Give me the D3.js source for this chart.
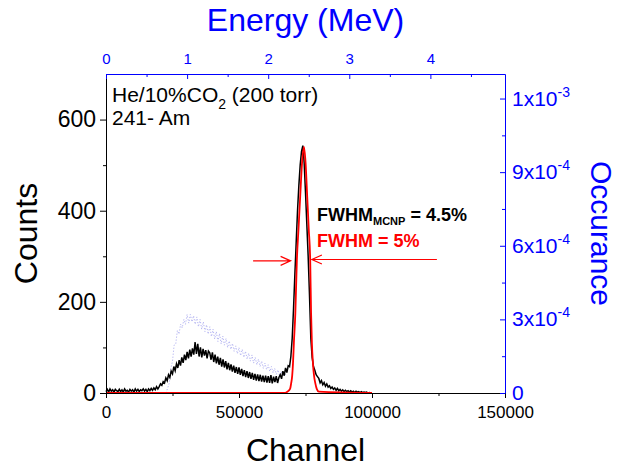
<!DOCTYPE html>
<html>
<head>
<meta charset="utf-8">
<script src="https://cdn.jsdelivr.net/npm/d3@7"></script>
<style>
  body { margin: 0; background: #fff; }
  svg text { font-family: "Liberation Sans", Arial, sans-serif; }
</style>
</head>
<body>
<svg id="chart" width="619" height="470"></svg>
<script>
// measured spectrum, counts per bin (bins of 500 channels starting at 0)
const chanStep = 500;
const counts = [
  3, 8, 2, 9, 4, 7, 2, 8, 5, 3,
  8, 3, 7, 2, 9, 4, 6, 2, 8, 4,
  7, 2, 9, 4, 8, 3, 7, 5, 9, 4,
  8, 3, 9, 5, 10, 6, 11, 7, 14, 9,
  14, 20, 17, 25, 22, 33, 27, 40, 34, 48,
  42, 58, 49, 64, 55, 72, 60, 78, 66, 84,
  72, 90, 76, 95, 80, 98, 84, 112, 86, 108,
  80, 100, 78, 97, 82, 94, 76, 92, 88, 73,
  89, 68, 84, 65, 80, 62, 77, 58, 74, 56,
  70, 52, 66, 50, 63, 47, 60, 44, 57, 42,
  56, 40, 53, 37, 50, 35, 48, 33, 46, 31,
  44, 29, 42, 27, 41, 26, 40, 25, 38, 24,
  38, 23, 37, 22, 39, 21, 36, 24, 37, 22,
  34, 40, 31, 48, 38, 55, 45, 60, 58, 80,
  120, 185, 260, 330, 400, 455, 500, 530, 543, 505,
  440, 370, 300, 215, 120, 78, 58, 50, 40, 36,
  32, 22, 27, 18, 23, 15, 20, 13, 16, 10,
  13, 8, 11, 6, 10, 5, 8, 4, 7, 3,
  6, 3, 5, 2, 5, 2, 4, 1, 4, 2,
  3, 1, 3, 1, 2, 1, 2, 0, 1, 0,
  0
];

// gaussian fit (channel, counts)
const fitChannel = [0, 67400, 68200, 69200, 69600, 70000, 70300, 70630, 71180, 71750, 72370, 73000, 73700,
  74400, 75030, 75650, 76220, 76770, 77100, 77400, 77800, 78210, 78700, 79230, 80000, 100000];
const fitCounts = [0, 0, 3, 9, 21, 38, 65, 110, 175, 291, 360, 430, 505, 540,
  505, 430, 360, 291, 175, 110, 65, 38, 21, 9, 3, 0];

// MCNP simulation (energy MeV, occurance in units of 1e-4)
const simEnergy = [
  0.74, 0.76, 0.78, 0.80, 0.82, 0.84, 0.86, 0.88, 0.90, 0.92,
  0.94, 0.96, 0.98, 1.00, 1.02, 1.04, 1.06, 1.08, 1.10, 1.12,
  1.14, 1.16, 1.18, 1.20, 1.22, 1.24, 1.26, 1.28, 1.30, 1.32,
  1.34, 1.36, 1.38, 1.40, 1.42, 1.44, 1.46, 1.48, 1.50, 1.52,
  1.54, 1.56, 1.58, 1.60, 1.62, 1.64, 1.66, 1.68, 1.70, 1.72,
  1.74, 1.76, 1.78, 1.80, 1.82, 1.84, 1.86, 1.88, 1.90, 1.92,
  1.94, 1.96, 1.98, 2.00, 2.02, 2.04, 2.06, 2.08, 2.10, 2.12,
  2.14, 2.16, 2.18, 2.20, 2.22
];
const simOcc = [
  0.0, 0.2, 0.4, 1.0, 1.3, 1.95, 2.0, 2.55, 2.4, 2.8,
  2.65, 3.0, 2.8, 3.2, 2.85, 3.2, 2.9, 3.15, 2.8, 3.1,
  2.7, 3.0, 2.6, 2.9, 2.5, 2.78, 2.4, 2.7, 2.3, 2.6,
  2.2, 2.5, 2.1, 2.42, 2.0, 2.32, 1.95, 2.22, 1.85, 2.12,
  1.78, 2.02, 1.7, 1.92, 1.6, 1.85, 1.52, 1.78, 1.45, 1.7,
  1.38, 1.62, 1.3, 1.55, 1.22, 1.45, 1.15, 1.38, 1.08, 1.3,
  1.0, 1.22, 0.95, 1.15, 0.88, 1.08, 0.82, 1.0, 0.76, 0.94,
  0.72, 0.88, 0.7, 0.82, 0.68
];

const channelTicks = [0, 50000, 100000, 150000];
const channelMinor = [25000, 75000, 125000];
const countTicks = [0, 200, 400, 600];
const countMinor = [100, 300, 500];
const energyTicks = [0, 1, 2, 3, 4];
const energyMinor = [0.5, 1.5, 2.5, 3.5, 4.5];
const occTicks = [0, 3, 6, 9, 12];
const occMinor = [1.5, 4.5, 7.5, 10.5];
const occLabels = [["0", ""], ["3x10", "-4"], ["6x10", "-4"], ["9x10", "-4"], ["1x10", "-3"]];

const BLUE = "#0000ff", RED = "#ff0000";
const margin = { top: 74, right: 114, bottom: 77, left: 106 };
const W = 619, H = 470;

const svg = d3.select("#chart");

const x = d3.scaleLinear().domain([0, 150000]).range([margin.left, W - margin.right]);
const y = d3.scaleLinear().domain([0, 700]).range([H - margin.bottom, margin.top]);
const xE = d3.scaleLinear().domain([0, 4.92]).range([margin.left, W - margin.right]);
const yO = d3.scaleLinear().domain([0, 13]).range([H - margin.bottom, margin.top]);

// data lines
svg.append("path")
  .datum(simEnergy.map((e, i) => [e, simOcc[i]]))
  .attr("fill", "none")
  .attr("stroke", "#b4b4f2")
  .attr("stroke-width", 1)
  .attr("stroke-dasharray", "1.2,1.8")
  .attr("d", d3.line().x(d => xE(d[0])).y(d => yO(d[1])));

svg.append("path")
  .datum(counts)
  .attr("fill", "none")
  .attr("stroke", "#000")
  .attr("stroke-width", 1.5)
  .attr("d", d3.line().x((d, i) => x(i * chanStep)).y(d => y(d)));

svg.append("path")
  .datum(fitChannel.map((c, i) => [c, fitCounts[i]]))
  .attr("fill", "none")
  .attr("stroke", RED)
  .attr("stroke-width", 1.8)
  .attr("d", d3.line().curve(d3.curveMonotoneX).x(d => x(d[0])).y(d => y(d[1])));

// axes
const fs = sel => sel.attr("font-family", null);
const fmt = d3.format("d");

const gB = svg.append("g").attr("transform", `translate(0,${H - margin.bottom})`)
  .call(d3.axisBottom(x).tickValues(channelTicks).tickFormat(fmt).tickSize(5).tickSizeOuter(0).tickPadding(8));
gB.selectAll("text").attr("font-size", 17).attr("fill", "#000").call(fs);
svg.append("g").attr("transform", `translate(0,${H - margin.bottom})`)
  .call(d3.axisBottom(x).tickValues(channelMinor).tickSize(3).tickFormat(""))
  .select(".domain").remove();

const gL = svg.append("g").attr("transform", `translate(${margin.left},0)`)
  .call(d3.axisLeft(y).tickValues(countTicks).tickSize(6).tickSizeOuter(0).tickPadding(4));
gL.selectAll("text").attr("font-size", 23).attr("fill", "#000").call(fs);
svg.append("g").attr("transform", `translate(${margin.left},0)`)
  .call(d3.axisLeft(y).tickValues(countMinor).tickSize(3).tickFormat(""))
  .select(".domain").remove();

const gT = svg.append("g").attr("transform", `translate(0,${margin.top})`)
  .call(d3.axisTop(xE).tickValues(energyTicks).tickFormat(fmt).tickSize(-5).tickSizeOuter(0).tickPadding(10));
gT.selectAll("text").attr("font-size", 15).attr("fill", BLUE).call(fs);
gT.selectAll("line, .domain").attr("stroke", BLUE);
svg.append("g").attr("transform", `translate(0,${margin.top})`)
  .call(d3.axisTop(xE).tickValues(energyMinor).tickSize(-3).tickFormat(""))
  .call(g => g.select(".domain").remove())
  .selectAll("line").attr("stroke", BLUE);

const gR = svg.append("g").attr("transform", `translate(${W - margin.right},0)`)
  .call(d3.axisRight(yO).tickValues(occTicks).tickSize(-5).tickSizeOuter(0).tickFormat(""));
gR.selectAll("line, .domain").attr("stroke", BLUE);
svg.append("g").attr("transform", `translate(${W - margin.right},0)`)
  .call(d3.axisRight(yO).tickValues(occMinor).tickSize(-3).tickFormat(""))
  .call(g => g.select(".domain").remove())
  .selectAll("line").attr("stroke", BLUE);

const rl = svg.append("g").selectAll("text").data(occTicks).join("text")
  .attr("x", W - margin.right + 7)
  .attr("y", d => yO(d) + 7)
  .attr("fill", BLUE)
  .attr("font-size", 21);
rl.append("tspan").text((d, i) => occLabels[i][0]);
rl.append("tspan").attr("dy", -9).attr("font-size", 14).text((d, i) => occLabels[i][1]);

// axis titles
svg.append("text").attr("x", (margin.left + W - margin.right) / 2).attr("y", 31)
  .attr("text-anchor", "middle").attr("font-size", 32).attr("fill", BLUE).text("Energy (MeV)");
svg.append("text").attr("x", (margin.left + W - margin.right) / 2).attr("y", 461)
  .attr("text-anchor", "middle").attr("font-size", 32).attr("fill", "#000").text("Channel");
svg.append("text").attr("transform", `translate(37,${(margin.top + H - margin.bottom) / 2}) rotate(-90)`)
  .attr("text-anchor", "middle").attr("font-size", 32).attr("fill", "#000").text("Counts");
svg.append("text").attr("transform", `translate(591,${(margin.top + H - margin.bottom) / 2}) rotate(90)`)
  .attr("text-anchor", "middle").attr("font-size", 30).attr("fill", BLUE).text("Occurance");

// labels inside the plot
const t1 = svg.append("text").attr("x", 112).attr("y", 102).attr("font-size", 21).attr("fill", "#000");
t1.append("tspan").text("He/10%CO");
t1.append("tspan").attr("dy", 7).attr("font-size", 14).text("2");
t1.append("tspan").attr("dy", -7).text(" (200 torr)");
svg.append("text").attr("x", 112).attr("y", 125).attr("font-size", 21).attr("fill", "#000").text("241- Am");

const t2 = svg.append("text").attr("x", 317).attr("y", 221).attr("font-size", 18)
  .attr("font-weight", "bold").attr("fill", "#000");
t2.append("tspan").text("FWHM");
t2.append("tspan").attr("dy", 4).attr("font-size", 11).text("MCNP");
t2.append("tspan").attr("dy", -4).text(" = 4.5%");
svg.append("text").attr("x", 317).attr("y", 247).attr("font-size", 18)
  .attr("font-weight", "bold").attr("fill", RED).text("FWHM = 5%");

// arrows marking the half-maximum
const arrows = [
  { from: 55300, to: 69400, level: 290 },
  { from: 124400, to: 77400, level: 293 }
];
arrows.forEach(a => {
  const x0 = x(a.from), x1 = x(a.to), yy = y(a.level);
  const dir = Math.sign(x1 - x0);
  svg.append("path")
    .attr("fill", "none").attr("stroke", RED).attr("stroke-width", 1.2)
    .attr("d", `M${x0},${yy}H${x1}M${x1 - dir * 10},${yy - 4.5}L${x1},${yy}L${x1 - dir * 10},${yy + 4.5}`);
});
</script>
</body>
</html>
